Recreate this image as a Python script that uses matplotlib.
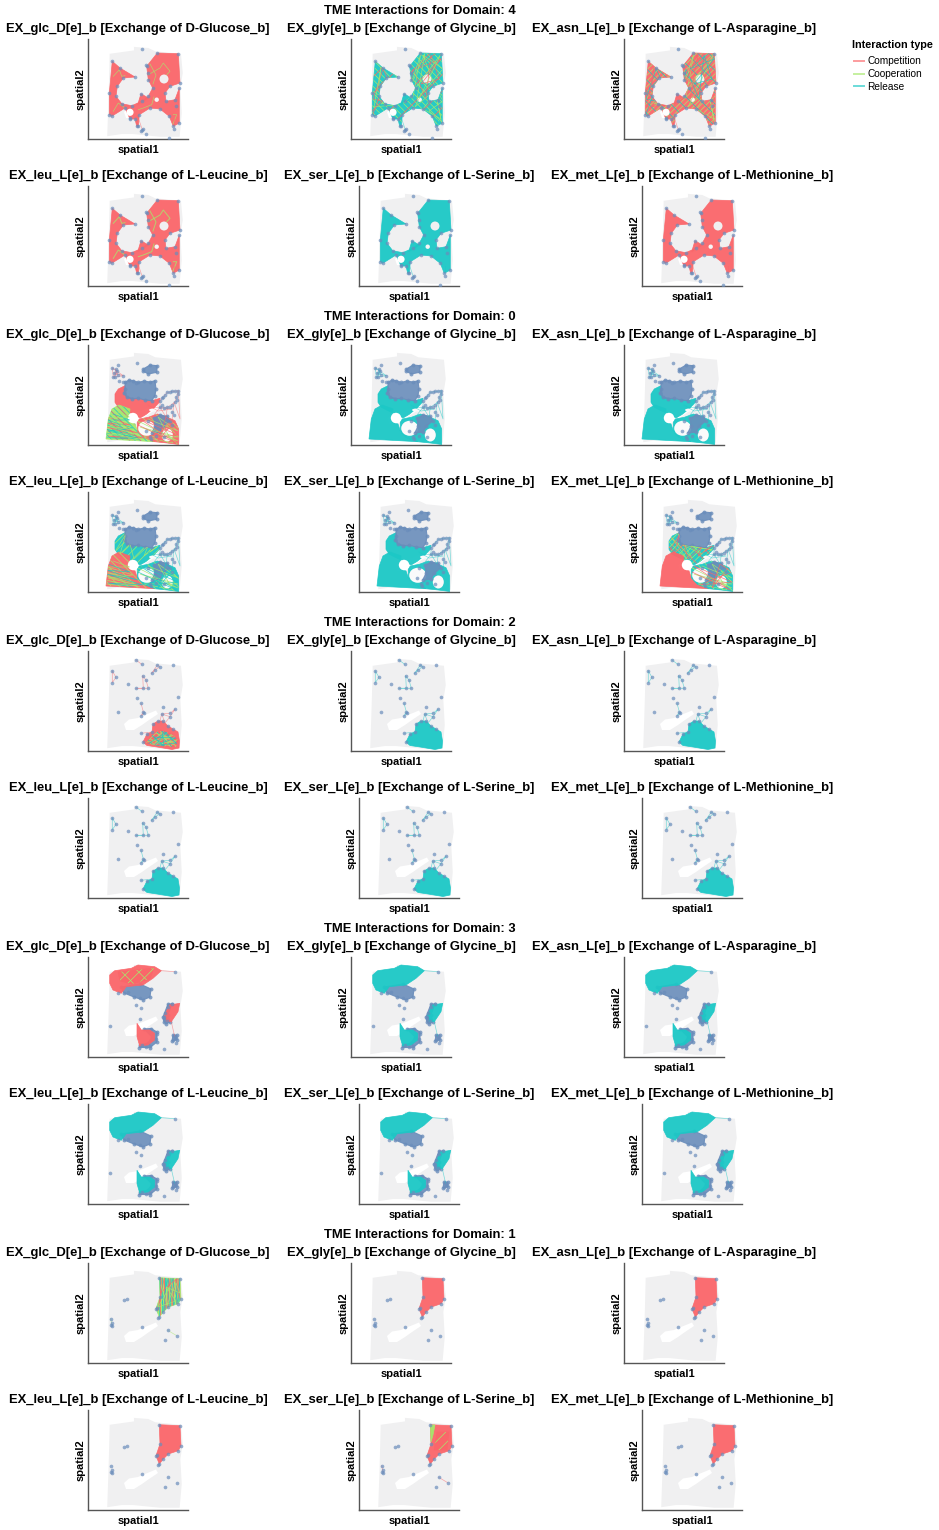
import matplotlib
matplotlib.use("Agg")
import matplotlib.pyplot as plt
from matplotlib.patches import Polygon, Ellipse, Circle
from matplotlib.lines import Line2D

plt.rcParams["font.family"] = ["Liberation Sans", "DejaVu Sans"]
plt.rcParams["hatch.linewidth"] = 0.5

RED = "#FB666A"
GREEN = "#A6E86C"
TEAL = "#1CC8C6"
BLUE = "#6A8DBB"
TISSUE = "#F0F0F1"

DOMAINS = [4, 0, 2, 3, 1]
TITLES = [
    ["EX_glc_D[e]_b [Exchange of D-Glucose_b]", "EX_gly[e]_b [Exchange of Glycine_b]",
     "EX_asn_L[e]_b [Exchange of L-Asparagine_b]"],
    ["EX_leu_L[e]_b [Exchange of L-Leucine_b]", "EX_ser_L[e]_b [Exchange of L-Serine_b]",
     "EX_met_L[e]_b [Exchange of L-Methionine_b]"],
]
LEGEND_LABELS = ["Competition", "Cooperation", "Release"]

# Tissue section outline and the empty lumen inside it (spatial coordinates)
tissue_outline = [(22.7, 84.3), (47, 87.7), (47, 91), (60, 90), (67, 86.7), (92, 84.3), (93.7, 66),
                  (91.3, 51), (92.7, 26), (90.7, 3.3), (72, 3.3), (45, 6), (33.7, 6), (20.3, 4),
                  (21.3, 32.7), (22, 56)]
lumen_outline = [(36, 27), (41, 31.5), (50, 33), (57, 36), (68, 40.5), (70, 37), (61, 31), (54, 26),
                 (46, 21), (38, 21)]

# Domain 4
d4_main = [(24.3, 77.7), (32, 71), (47, 62), (35.3, 61), (29.3, 52.7), (28, 42.7), (33.7, 35.3),
           (43.7, 33.3), (53.7, 37.7), (60.3, 42.7), (64.7, 51), (60.3, 59.3), (58.7, 72.7),
           (69.3, 86), (90.3, 85.3), (92, 56), (82, 52.7), (77, 46), (78, 37.7), (87, 39.3),
           (91.3, 51), (91.3, 16), (85.3, 12.7), (81.3, 22.7), (72, 30), (62, 31), (51.3, 24.3),
           (50.3, 12.7), (48.7, 12.7), (47, 20), (42, 20), (37, 31), (23.7, 22.7), (21.3, 24.3),
           (21.3, 46)]
d4_spike = [(53, 45.3), (49.7, 34.3), (60.3, 41)]
d4_nodes = [(53.7, 90.3), (53, 45.3), (54.3, 9.3), (55.3, 10.5), (53, 8), (57.7, 5), (81.3, 0.7),
            (60.3, 66), (57.7, 74), (88, 33), (86, 10.5), (42, 21.5)]
d4_links = [[(50, 22), (54.3, 9.3)], [(48, 22), (50, 12)], [(86, 13), (86, 20)]]
d4_sparse = [
    [(25.3, 27.7), (30.3, 36), (37, 31)], [(25.3, 62.7), (31.3, 69.3), (33.7, 62.7), (37, 63.3)],
    [(60.3, 64.3), (72, 71), (75.3, 76), (82, 67.7), (78.7, 64.3)],
    [(50.3, 29.3), (55.3, 31), (63.7, 34.3), (66, 42)], [(85.3, 24.3), (88.7, 24.3), (85, 15)],
    [(62, 75), (68, 64), (65, 55)],
]
d4_weave_a = [(24, 78), (47, 62), (28, 45), (60, 60), (30, 35), (62, 42), (70, 86), (55, 38), (90, 85),
              (64, 32), (92, 56), (72, 30), (90, 20), (85, 45), (91, 14)]
d4_weave_b = [(22, 25), (35, 60), (25, 50), (45, 35), (22, 40), (32, 70), (36, 62), (58, 42), (62, 70),
              (75, 40), (80, 84), (88, 60), (70, 55), (90, 80), (66, 70), (85, 86)]
d4_weave_c = [(22, 48), (42, 34), (23, 32), (30, 72), (28, 54), (54, 36), (62, 58), (74, 86), (66, 40),
              (92, 70), (72, 84), (84, 52), (92, 38), (78, 28), (88, 18)]

# Domain 0
d0_upper = [(27, 51), (30.3, 56), (37, 59.3), (38.7, 47.7), (63.7, 44.3), (72, 46.7), (71.3, 42.7),
            (66, 37), (58, 30.5), (52, 27), (47, 30), (37, 34.3), (30.3, 37.7), (27, 42.7)]
d0_lower = [(18, 6), (20.3, 26), (24, 36), (31, 40), (42, 36), (41.3, 28.7), (42, 22.7), (47, 21),
            (49.3, 14.3), (55.3, 7.7), (67, 3.3), (35.3, 5)]
d0_strip = [(49.3, 22.7), (51.3, 26), (60.3, 27.7), (69.3, 31), (79.3, 27.7), (87, 24.3), (90.7, 16),
            (90.7, 0.5), (79.3, 2), (67, 3.3), (55.3, 7.7), (49.3, 14.3)]
d0_blue_main = [(37, 62.7), (41, 65), (45.3, 64.3), (50.3, 62.7), (56, 64), (62, 63), (67, 64.3), (68, 56),
                (67, 49.3), (63.7, 44.3), (57, 45), (50.3, 46.7), (44, 46), (38.7, 47.7), (36, 52), (37, 56)]
d0_blue_top = [(55.3, 76), (62, 80), (69.3, 79.3), (68.7, 72.7), (60.3, 71), (55.3, 73.7)]
d0_blue_core = [(66, 26.7), (72, 30), (79.3, 28.7), (82, 24.3), (75.3, 18.7), (72, 12.7), (63.7, 12),
                (67, 18.7)]
d0_nodes = [(29.7, 80), (49.3, 81.7), (31.3, 64.3), (35.3, 63), (24.3, 77), (25.3, 67.7), (29.3, 74.3),
            (35.3, 69.3), (72, 44.3), (79.3, 52.7), (90.3, 54.3), (87, 42.7), (79.3, 37.7), (72, 37.7),
            (84, 54), (88, 48), (75, 48), (76, 8), (84, 20), (58, 14), (62, 8), (48, 62), (74, 47),
            (76.5, 50.5), (82, 53.5), (87, 54), (89.5, 51), (89, 45), (84, 40.5), (81.5, 38.5), (76, 37.5),
            (74, 40), (60, 24), (68, 9), (63, 6), (86, 30), (84, 33), (26, 72), (28, 76), (30, 70), (27, 68)]
d0_links = [[(24.3, 77), (25.3, 67.7), (29.3, 74.3), (24.3, 77), (35.3, 69.3), (25.3, 67.7)],
            [(26, 72), (30, 70), (28, 76), (27, 68), (29.3, 74.3), (26, 72), (35.3, 69.3)],
            [(72, 44.3), (79.3, 52.7), (90.3, 54.3), (87, 42.7), (79.3, 37.7), (72, 37.7), (72, 44.3)],
            [(90.3, 54.3), (92, 26), (86, 43), (84, 24)], [(79.3, 37.7), (78, 28), (72, 37.7), (66, 30)],
            [(62, 38), (84, 36), (70, 34), (60, 40)]]
d0_lower_a = [(18, 24), (42, 14), (18, 20), (48, 9), (18, 16), (52, 5), (18, 12), (40, 6), (18, 8)]
d0_lower_b = [(20, 28), (42, 20), (18, 22), (50, 12), (18, 18), (55, 7), (20, 9), (45, 5)]
d0_lower_c = [(25, 31), (42, 25), (19, 25), (45, 17), (20, 14), (50, 7), (24, 7)]
d0_lower_d = [(30, 33), (42, 28), (19, 27), (46, 15), (19, 19), (48, 11), (19, 11), (52, 6), (30, 5)]
d0_strip_a = [(50, 24), (90, 4), (52, 18), (90, 8), (56, 8), (85, 2), (70, 28), (90, 14), (60, 26)]
d0_strip_b = [(50, 20), (88, 2), (52, 26), (90, 10), (58, 7), (90, 20), (78, 28), (70, 4), (86, 24)]
d0_upper_a = [(27, 50), (45, 33), (29, 55), (50, 34), (36, 58), (60, 38), (40, 47), (70, 42), (50, 46)]
d0_upper_b = [(28, 42), (38, 58), (32, 38), (42, 48), (46, 33), (60, 46), (56, 36), (70, 46), (62, 40)]

# Domain 2
d2_main = [(55, 9), (59, 17), (64, 19), (65, 27), (70, 30), (75, 30), (80, 25), (85, 22), (90, 19), (91.5, 10),
           (91, 3), (84, 1.5), (69, 4), (59, 5.5)]
d2_core = [(58, 8), (64, 16), (72, 21), (84, 17), (90, 11), (88, 4), (70, 5)]
d2_nodes = [(48, 91), (53.7, 86.7), (24.3, 80), (28, 73.7), (24.3, 68.3), (69.3, 86), (72, 84.3), (67, 81),
            (63.7, 77.7), (84.7, 86), (54.7, 75), (58, 71), (60.3, 62.7), (55.3, 62.7), (48, 62.7),
            (39.7, 67), (49.3, 52.7), (89.7, 53.7), (53, 47.7), (55.3, 39.3), (53, 35), (56.3, 38.3),
            (29.7, 39.3), (75.3, 44.3), (87, 41.7), (82, 37.7), (73.7, 37), (82, 34.3), (53, 17.7)]
d2_links = [[(48, 91), (53.7, 86.7)], [(24.3, 80), (28, 73.7), (24.3, 68.3), (24.3, 80)],
            [(63.7, 77.7), (69.3, 86), (72, 84.3), (67, 81), (63.7, 77.7)],
            [(54.7, 75), (58, 71), (60.3, 62.7), (55.3, 62.7), (48, 62.7), (55.3, 62.7), (54.7, 75)],
            [(53, 47.7), (55.3, 39.3), (53, 35), (56.3, 38.3)],
            [(87, 41.7), (82, 37.7), (73.7, 37), (82, 34.3), (87, 41.7)],
            [(82, 34.3), (77, 28), (73.7, 37), (72, 30)], [(53, 17.7), (64, 19)]]
d2_weave_a = [(60, 9), (86, 16), (62, 6), (88, 10), (68, 18), (88, 5), (72, 20), (82, 5), (62, 12)]
d2_weave_b = [(60, 7), (80, 20), (66, 5), (88, 8), (74, 20), (76, 5), (66, 14), (88, 13), (70, 7)]

# Domain 3
d3_top = [(21.7, 82), (26.7, 86.3), (43.3, 88.7), (50, 92), (66.7, 90.3), (73.3, 86.3), (65, 78.7),
          (55, 72), (38.3, 70.3), (33.3, 63.7), (25, 67), (21.7, 73.7)]
d3_core = [(30, 85), (66, 89), (62, 78), (44, 73), (32, 76)]
d3_right = [(76.7, 42), (81.7, 52), (91.7, 53.7), (90, 45.3), (83.3, 35.3), (78.3, 35.3)]
d3_bottom = [(49, 33.7), (53.3, 27), (61.7, 27), (66.7, 23.7), (66.7, 17), (60, 12), (51.7, 11), (49, 20.3)]
d3_blue_top = [(33, 70), (52, 73), (63, 68), (62, 60), (55, 57), (46, 60), (36, 64)]
d3_blue_right = [(75, 40), (80, 53), (84, 53), (80, 42), (82, 35), (78, 33), (76, 35)]
d3_blue_bottom = [(56, 28), (63, 28.5), (69, 25), (69, 15), (62, 9.5), (51, 9.5), (52, 12), (60, 14), (64, 20)]
d3_blue_small = [(84, 16), (89, 17), (89, 22), (85, 22)]
d3_nodes = [(86.7, 85.3), (48.3, 52), (53.3, 48.7), (21.7, 31), (51.7, 37.7), (86.7, 20.3), (85, 17),
            (88.3, 18.7), (76, 7.7), (54, 12), (69, 23), (68, 18), (62, 11), (75.5, 40), (77, 44), (80, 50),
            (84, 53), (79, 36), (76, 38), (52, 59), (40, 65), (30, 64), (88, 14), (58, 10)]
d3_links = [[(73.3, 86.3), (86.7, 85.3)], [(83.3, 35.3), (86.7, 20.3)]]

# Domain 1
d1_main = [(71.3, 85.3), (92, 84.3), (93, 64.3), (90.3, 59.3), (80.3, 56), (75.3, 51), (71.3, 46), (68, 54.3),
           (72, 66)]
d1_corner = [(71.5, 85), (76, 85), (74, 75), (72, 68)]
d1_streaks = [(75, 60), (88, 60), (90, 78), (78, 78)]
d1_nodes = [(36.3, 62.7), (38.7, 63.7), (22.7, 44.3), (24.3, 40.3), (22.7, 37.7), (24.3, 37), (54.3, 36),
            (79.7, 32.7), (88.7, 27.3), (77.3, 22.7), (70.3, 45.3), (69, 55)]
d1_links = [[(22.7, 44.3), (24.3, 37)], [(79.7, 32.7), (88.7, 27.3)]]
d1_weave_a = [(72, 84), (76, 50), (78, 85), (82, 56), (84, 85), (90, 60), (92, 82), (86, 58), (80, 84), (74, 60)]
d1_weave_b = [(74, 85), (70, 52), (76, 84), (78, 54), (82, 84), (84, 57), (88, 84), (92, 64), (90, 85), (72, 70)]
d1_weave_c = [(73, 78), (79, 58), (88, 80), (92, 70), (78, 76), (88, 62), (70, 56), (84, 80)]

PALE_D0 = [(58.7, 16.7, 17, 15), (79.3, 10, 11, 13), (66, 35, 10, 3)]

# Each panel: (region, fill, [(strand list or hatch pattern, colour), ...]) in drawing order
PANELS = {
    4: [
        [(d4_main, RED, []), (d4_spike, RED, [])],
        [(d4_main, TEAL, [("\\\\\\\\\\", GREEN), ("//", RED), (d4_weave_b, RED), (d4_weave_c, GREEN), (d4_weave_a, GREEN)]),
         (d4_spike, TEAL, [])],
        [(d4_main, RED, [("//////", GREEN), ("\\\\\\", TEAL), (d4_weave_a, GREEN), (d4_weave_b, TEAL), (d4_weave_c, RED)]),
         (d4_spike, RED, [])],
        [(d4_main, RED, []), (d4_spike, RED, [])],
        [(d4_main, TEAL, []), (d4_spike, TEAL, [])],
        [(d4_main, RED, []), (d4_spike, RED, [])],
    ],
    0: [
        [(d0_upper, RED, []),
         (d0_lower, GREEN, [("\\\\\\\\\\\\", TEAL), ("\\\\\\", RED), (d0_lower_a, TEAL), (d0_lower_b, RED), (d0_lower_c, TEAL), (d0_lower_d, GREEN)]),
         (d0_strip, RED, [("\\\\\\\\", GREEN), (d0_strip_a, GREEN), (d0_strip_b, RED)])],
        [(d0_upper, TEAL, []), (d0_lower, TEAL, []), (d0_strip, TEAL, [])],
        [(d0_upper, TEAL, []), (d0_lower, TEAL, []), (d0_strip, TEAL, [])],
        [(d0_upper, TEAL, [("////", GREEN), (d0_upper_b, GREEN)]),
         (d0_lower, RED, [("\\\\\\\\", GREEN), (d0_lower_a, GREEN), (d0_lower_c, GREEN), (d0_lower_b, TEAL)]),
         (d0_strip, TEAL, [("\\\\\\\\", GREEN), (d0_strip_a, GREEN), (d0_strip_b, TEAL)])],
        [(d0_upper, TEAL, []), (d0_lower, TEAL, []), (d0_strip, TEAL, [])],
        [(d0_upper, TEAL, [("//////", GREEN), ("\\\\\\", RED), (d0_upper_a, GREEN), (d0_upper_b, RED)]), (d0_lower, RED, []),
         (d0_strip, TEAL, [("\\\\\\\\", GREEN), (d0_strip_a, GREEN), (d0_strip_b, RED)])],
    ],
    2: [
        [(d2_main, RED, []), (d2_core, RED, [("//////", GREEN), ("\\\\\\\\", TEAL), (d2_weave_a, GREEN), (d2_weave_b, TEAL)])],
        [(d2_main, TEAL, [])], [(d2_main, TEAL, [])], [(d2_main, TEAL, [])], [(d2_main, TEAL, [])], [(d2_main, TEAL, [])],
    ],
    3: [
        [(d3_top, RED, []), (d3_core, RED, [("///", GREEN), ("\\\\", GREEN)]), (d3_right, RED, []), (d3_bottom, RED, [])],
        [(d3_top, TEAL, []), (d3_right, TEAL, []), (d3_bottom, TEAL, [])],
        [(d3_top, TEAL, []), (d3_right, TEAL, []), (d3_bottom, TEAL, [])],
        [(d3_top, TEAL, []), (d3_right, TEAL, []), (d3_bottom, TEAL, [])],
        [(d3_top, TEAL, []), (d3_right, TEAL, []), (d3_bottom, TEAL, [])],
        [(d3_top, TEAL, []), (d3_right, TEAL, []), (d3_bottom, TEAL, [])],
    ],
    1: [
        [(d1_main, GREEN, [("||||||", TEAL), ("||||", RED), (d1_weave_a, TEAL), (d1_weave_b, RED), (d1_weave_c, GREEN)])],
        [(d1_main, RED, [])], [(d1_main, RED, [])], [(d1_main, RED, [])],
        [(d1_main, RED, []), (d1_corner, GREEN, []), (d1_streaks, RED, [("///", GREEN)])],
        [(d1_main, RED, [])],
    ],
}
NODES = {4: d4_nodes + d4_main, 0: d0_nodes, 2: d2_nodes + d2_main[:8], 3: d3_nodes, 1: d1_nodes + d1_main}
LINKS = {4: d4_links, 0: d0_links, 2: d2_links, 3: d3_links, 1: d1_links}
# Colour of the thin links between scattered spots, per panel
LINK_COLOURS = {4: [RED, TEAL, RED, RED, TEAL, RED], 0: [RED, TEAL, TEAL, TEAL, TEAL, TEAL],
                2: [RED, TEAL, TEAL, TEAL, TEAL, TEAL], 3: [RED, TEAL, TEAL, TEAL, TEAL, TEAL],
                1: [GREEN, TISSUE, TISSUE, TISSUE, RED, TISSUE]}
BLUE_UNDER = {3: [d3_blue_top, d3_blue_right, d3_blue_bottom, d3_blue_small]}
BLUE_OVER = {0: [d0_blue_main, d0_blue_top, d0_blue_core]}

W, H = 939, 1530
PERIOD = 306
LEFTS = [[88, 351, 624], [88, 359, 642]]
TOPS = [39, 186]
SIZE = 100

fig = plt.figure(figsize=(W / 100, H / 100), dpi=100)


def draw_blue(ax, area):
    ax.add_patch(Polygon(area, closed=True, fc=BLUE, ec=BLUE, lw=0.8, alpha=0.9))
    bx, by = zip(*area)
    ax.scatter(bx, by, s=8, color=BLUE, alpha=0.8, linewidths=0)


def draw_panel(ax, domain, layers, link_colour, title):
    ax.add_patch(Polygon(tissue_outline, closed=True, fc=TISSUE, ec=TISSUE, lw=1.5))
    ax.add_patch(Polygon(lumen_outline, closed=True, fc="white", ec="none"))
    for area in BLUE_UNDER.get(domain, []):
        draw_blue(ax, area)
    for region, fill, strands in layers:
        patch = Polygon(region, closed=True, fc=fill, ec=fill, lw=0.5, alpha=0.95)
        ax.add_patch(patch)
        for pts, colour in strands:
            if isinstance(pts, str):
                ax.add_patch(Polygon(region, closed=True, fc="none", ec=colour, lw=0, hatch=pts))
            else:
                xs, ys = zip(*pts)
                line, = ax.plot(xs, ys, color=colour, lw=0.5, alpha=0.85, solid_joinstyle="miter")
                line.set_clip_path(patch)
    if domain == 4:
        if title.startswith(("EX_glc", "EX_leu")):
            for pts in d4_sparse:
                xs, ys = zip(*pts)
                ax.plot(xs, ys, color=GREEN, lw=0.5 if title.startswith("EX_glc") else 0.7, alpha=0.8)
        ax.add_patch(Circle((76, 60), 4.5, fc=TISSUE, ec="none"))
        ax.add_patch(Circle((68.7, 39.3), 2.2, fc="#F6F6F7", ec="none"))
        ax.add_patch(Circle((42, 26.7), 3.6, fc="white", ec="none"))
    if domain == 0:
        for x, y, w, h in PALE_D0:
            ax.add_patch(Ellipse((x, y), w, h, fc="#FAFAFB", ec="none"))
        ax.add_patch(Circle((45, 27), 5.2, fc="white", ec="none"))
    for area in BLUE_OVER.get(domain, []):
        draw_blue(ax, area)
    for pts in LINKS[domain]:
        xs, ys = zip(*pts)
        ax.plot(xs, ys, color=link_colour, lw=0.5, alpha=0.55)
    nx, ny = zip(*NODES[domain])
    ax.scatter(nx, ny, s=7, color=BLUE, alpha=0.7, linewidths=0, zorder=4)

    ax.set_xlim(0, 100)
    ax.set_ylim(0, 100)
    ax.set_xticks([])
    ax.set_yticks([])
    for side in ("top", "right"):
        ax.spines[side].set_visible(False)
    for side in ("left", "bottom"):
        ax.spines[side].set_color("#555555")
        ax.spines[side].set_linewidth(1.0)
    ax.set_xlabel("spatial1", fontsize=8, fontweight="bold", labelpad=4)
    ax.set_ylabel("spatial2", fontsize=8, fontweight="bold", labelpad=2)
    ax.set_title(title, fontsize=9.35, fontweight="bold", pad=5.3)


for k, domain in enumerate(DOMAINS):
    fig.text(420 / W, 1 - (11.5 + PERIOD * k) / H, f"TME Interactions for Domain: {domain}",
             ha="center", va="center", fontsize=9.35, fontweight="bold")
    for row in range(2):
        for col in range(3):
            left = LEFTS[row][col]
            top = TOPS[row] + PERIOD * k
            ax = fig.add_axes([left / W, 1 - (top + SIZE) / H, SIZE / W, SIZE / H])
            idx = row * 3 + col
            draw_panel(ax, domain, PANELS[domain][idx], LINK_COLOURS[domain][idx], TITLES[row][col])

fig.text(852 / W, 1 - 45 / H, "Interaction type", ha="left", va="center", fontsize=7.85, fontweight="bold")
handles = [Line2D([], [], color=c, lw=1.4, alpha=0.65) for c in (RED, GREEN, TEAL)]
fig.legend(handles, LEGEND_LABELS, loc="upper left", bbox_to_anchor=(854 / W, 1 - 56.5 / H),
           frameon=False, fontsize=7.3, handlelength=1.0, handletextpad=0.33, labelspacing=0.27,
           borderpad=0, borderaxespad=0)

fig.savefig("out.png", dpi=100)
